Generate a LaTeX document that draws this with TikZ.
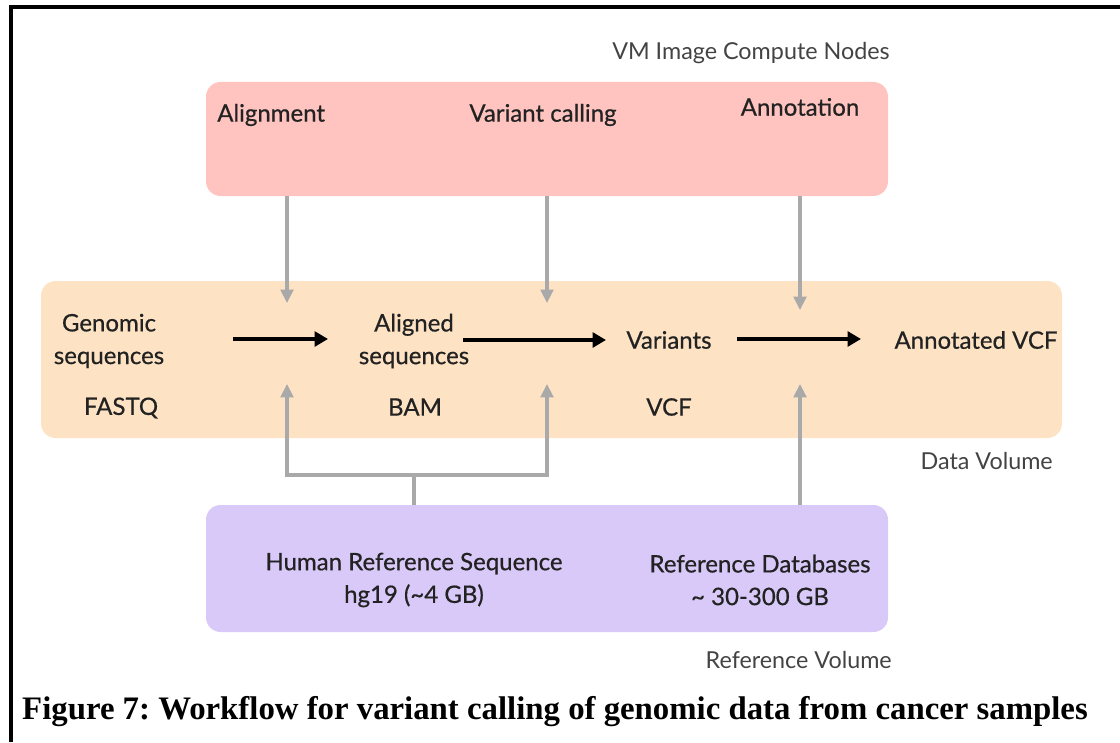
\documentclass[tikz,border=0pt]{standalone}
\usepackage{fontspec}
\setmainfont{Liberation Serif}
\newfontfamily\gill[FakeBold=0.6]{Lato}
\newfontfamily\gilllight{Lato}
\usetikzlibrary{arrows.meta}
\definecolor{computefill}{HTML}{FFC4C0}
\definecolor{datafill}{HTML}{FDE3C4}
\definecolor{reffill}{HTML}{D8C9F8}
\definecolor{linkgray}{HTML}{A9A9A9}
\definecolor{ink}{HTML}{222222}
\tikzset{
  panel/.style={rounded corners=11pt, inner sep=0pt, draw=none},
  lbl/.style={font=\gill\fontsize{18}{24.5}\selectfont, text=ink, align=center, inner sep=0pt},
  tag/.style={font=\gilllight\fontsize{17.5}{20}\selectfont, text=ink!85, inner sep=0pt},
  flow/.style={line width=2.8pt, draw=black, -{Triangle[length=10pt,width=11pt]}},
  feed/.style={line width=2.3pt, draw=linkgray, -{Triangle[length=10pt,width=9.5pt]}},
  joint/.style={line width=2.3pt, draw=linkgray}
}
\begin{document}
\frenchspacing
\begin{tikzpicture}[x=0.75pt,y=-0.75pt]
\useasboundingbox (0,0) rectangle (1120,742);
% outer frame
\draw[line width=2.4pt] (11,742) -- (11,7) -- (1120,7);

% panels
\fill[computefill, rounded corners=11pt] (206,82) rectangle (888,196);
\node[panel, minimum width=682*0.75pt, minimum height=114*0.75pt] (compute) at (547,139) {};
\fill[datafill, rounded corners=11pt] (41,281) rectangle (1062,438);
\node[panel, minimum width=1021*0.75pt, minimum height=157*0.75pt] (data) at (551.5,359.5) {};
\fill[reffill, rounded corners=11pt] (206,505) rectangle (888,632);
\node[panel, minimum width=682*0.75pt, minimum height=127*0.75pt] (refvol) at (547,568.5) {};

% panel captions
\node[tag, anchor=east] (vmcap) at (890,53) {VM Image Compute Nodes};
\node[tag, anchor=east] (datacap) at (1053,461) {Data Volume};
\node[tag, anchor=east] (refcap) at (892,660) {Reference Volume};

% compute steps
\node[lbl, anchor=west] (align) at (217,115) {Alignment};
\node[lbl] (vcall) at (543,115) {Variant calling};
\node[lbl] (annot) at (800,107) {Annotation};

% data items
\node[lbl] (fastq) at (109,341) {Genomic\\sequences};
\node[lbl] (fastqf) at (121,408) {FASTQ};
\node[lbl] (bam) at (414,341) {Aligned\\sequences};
\node[lbl] (bamf) at (415,407) {BAM};
\node[lbl] (vars) at (669,340) {Variants};
\node[lbl] (vcff) at (669,407) {VCF};
\node[lbl] (avcf) at (976,340) {Annotated VCF};

% reference items
\node[lbl] (hg) at (414,580) {Human Reference Sequence\\hg19 (\textasciitilde4 GB)};
\node[lbl] (rdb) at (760,580) {Reference Databases\\\textasciitilde\ 30-300 GB};

% main data flow
\coordinate (f1s) at (233,339); \coordinate (f1e) at (328,339);
\coordinate (f2s) at (463,340); \coordinate (f2e) at (606,340);
\coordinate (f3s) at (737,339); \coordinate (f3e) at (861,339);
\draw[flow] (f1s) -- (f1e);
\draw[flow] (f2s) -- (f2e);
\draw[flow] (f3s) -- (f3e);

% compute nodes act on the data
\coordinate (c1) at (287,303);
\coordinate (c2) at (547,303);
\coordinate (c3) at (800,310);
\draw[feed] (compute.south -| c1) -- (c1);
\draw[feed] (compute.south -| c2) -- (c2);
\draw[feed] (compute.south -| c3) -- (c3);

% reference inputs
\coordinate (r1) at (287,384);
\coordinate (r2) at (547,384);
\coordinate (r3) at (800,384);
\coordinate (split) at (414,475);
\draw[joint] (refvol.north -| split) -- (split);
\draw[feed] (split) -| (r1);
\draw[feed] (split) -| (r2);
\draw[feed] (refvol.north -| r3) -- (r3);

% figure caption
\node[font=\bfseries\fontsize{24.6}{27}\selectfont, inner sep=0pt] (figcap) at (555,712)
  {Figure 7: Workflow for variant calling of genomic data from cancer samples};
\end{tikzpicture}
\end{document}
